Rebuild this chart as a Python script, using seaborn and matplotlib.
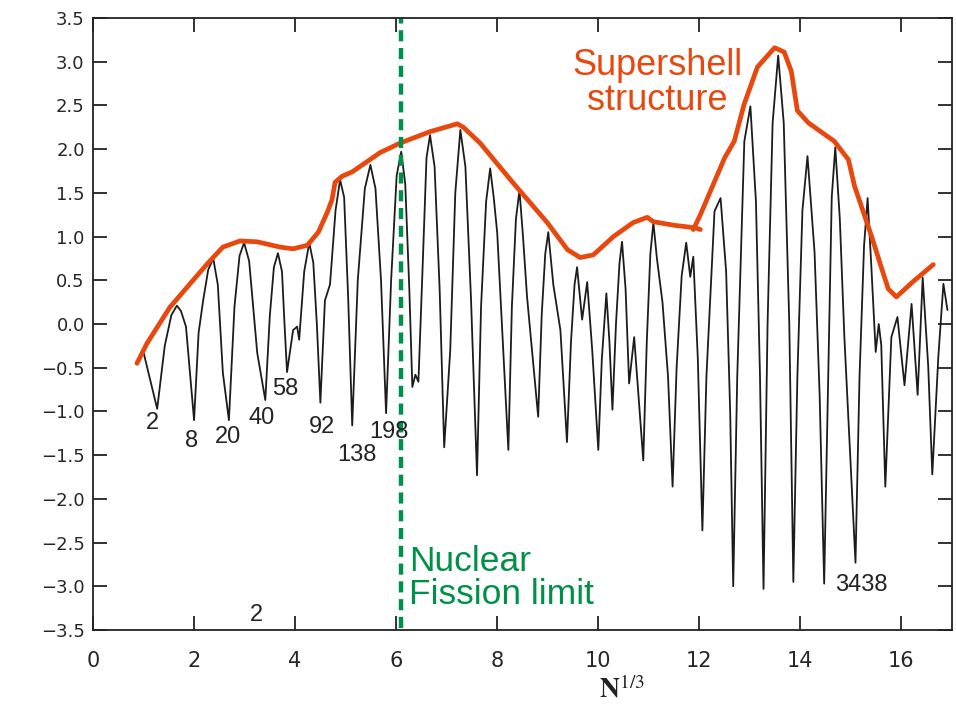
import matplotlib
matplotlib.use("Agg")
import matplotlib.pyplot as plt
import seaborn as sns
import pandas as pd

# Shell-correction energy versus N^(1/3)
n13 = [0.99, 1.27, 1.42, 1.55, 1.66, 1.74, 1.84, 2.00, 2.09, 2.18, 2.28, 2.38,
       2.47, 2.57, 2.69, 2.80, 2.90, 2.99, 3.09, 3.17, 3.25, 3.41, 3.50, 3.58,
       3.66, 3.74, 3.79, 3.84, 3.96, 4.04, 4.08, 4.18, 4.28, 4.36, 4.43, 4.50,
       4.59, 4.69, 4.80, 4.89, 4.97, 5.05, 5.13, 5.24, 5.38, 5.49, 5.59, 5.70,
       5.80, 5.90, 6.01, 6.10, 6.18, 6.26, 6.32, 6.38, 6.44, 6.52, 6.60, 6.67,
       6.76, 6.86, 6.95, 7.07, 7.17, 7.27, 7.37, 7.48, 7.60, 7.68, 7.78, 7.86,
       7.93, 8.00, 8.11, 8.22, 8.29, 8.37, 8.44, 8.51, 8.59, 8.81, 8.88, 8.95,
       9.01, 9.11, 9.25, 9.38, 9.46, 9.53, 9.58, 9.68, 9.78, 9.88, 10.00, 10.07,
       10.16, 10.22, 10.28, 10.35, 10.42, 10.47, 10.54, 10.61, 10.71, 10.89,
       10.96, 11.03, 11.09, 11.16, 11.27, 11.38, 11.47, 11.55, 11.65, 11.74,
       11.82, 11.88, 11.97, 12.06, 12.14, 12.30, 12.42, 12.53, 12.61, 12.67,
       12.75, 12.89, 13.01, 13.12, 13.20, 13.27, 13.35, 13.45, 13.56, 13.67,
       13.78, 13.86, 13.94, 14.04, 14.14, 14.28, 14.38, 14.47, 14.55, 14.62,
       14.69, 14.78, 14.87, 15.09, 15.17, 15.26, 15.33, 15.40, 15.49, 15.55,
       15.60, 15.68, 15.80, 15.92, 16.06, 16.20, 16.32, 16.42, 16.53, 16.61,
       16.73, 16.83, 16.91]
energy = [-0.30, -0.97, -0.25, 0.10, 0.21, 0.15, -0.03, -1.10, -0.10, 0.27, 0.62, 0.75,
          0.45, -0.56, -1.10, 0.20, 0.78, 0.93, 0.72, 0.20, -0.33, -0.87, 0.10, 0.65,
          0.81, 0.60, 0.00, -0.55, -0.07, -0.03, -0.18, 0.60, 0.93, 0.70, 0.00, -0.90,
          0.27, 0.45, 1.30, 1.65, 1.45, 0.30, -1.16, 0.50, 1.55, 1.82, 1.55, 0.50,
          -1.02, 0.50, 1.70, 1.97, 1.60, 0.40, -0.72, -0.58, -0.66, 0.60, 1.90, 2.16,
          1.80, 0.40, -1.41, -0.30, 1.50, 2.22, 1.80, 0.30, -1.73, 0.20, 1.40, 1.78,
          1.45, 1.04, -0.20, -1.44, 0.20, 1.20, 1.53, 1.00, 0.31, -1.06, 0.10, 0.80,
          1.05, 0.45, -0.07, -1.35, -0.20, 0.45, 0.65, 0.05, 0.48, -0.30, -1.44, -0.40,
          0.35, -0.20, -0.98, 0.00, 0.70, 0.94, 0.40, -0.68, -0.15, -1.56,
          -0.20, 0.80, 1.16, 0.75, 0.25, -0.60, -1.86, -0.50, 0.55, 0.93,
          0.54, 0.77, -0.40, -2.36, -0.60, 1.29, 1.44, 0.60, -1.00, -3.00,
          -0.60, 2.09, 2.49, 1.40, -0.60, -3.03, 0.00, 2.30, 3.07, 2.30,
          0.00, -2.95, -0.60, 1.30, 1.92, 0.82, -0.80, -2.97, -0.60, 1.45,
          2.02, 1.20, -0.15, -2.73, -0.60, 0.90, 1.44, 0.70, -0.32, 0.00,
          -0.24, -1.86, -0.15, 0.08, -0.70, 0.23, -0.81, 0.53, -0.49, -1.72,
          -0.37, 0.46, 0.16]

# Hand-drawn envelope (two strokes)
env1_x = [0.87, 1.07, 1.52, 1.98, 2.28, 2.57, 2.91, 3.25, 3.70, 3.96, 4.24, 4.46,
          4.63, 4.73, 4.79, 4.93, 5.13, 5.68, 6.08, 6.67, 7.21, 7.33, 7.66, 8.32,
          8.99, 9.39, 9.64, 9.90, 10.30, 10.69, 10.97, 11.09, 11.49, 11.92, 12.02]
env1_y = [-0.45, -0.22, 0.19, 0.50, 0.70, 0.88, 0.95, 0.94, 0.88, 0.86, 0.90, 1.05,
          1.27, 1.42, 1.62, 1.69, 1.74, 1.96, 2.07, 2.20, 2.29, 2.25, 2.07, 1.61,
          1.16, 0.85, 0.76, 0.79, 1.00, 1.16, 1.22, 1.17, 1.13, 1.10, 1.08]
env2_x = [11.88, 12.02, 12.50, 12.69, 12.89, 13.15, 13.49, 13.68, 13.82, 13.94,
          14.16, 14.67, 14.95, 15.07, 15.41, 15.60, 15.74, 15.90, 16.22, 16.63]
env2_y = [1.08, 1.25, 1.90, 2.09, 2.52, 2.94, 3.16, 3.11, 2.89, 2.44,
          2.30, 2.09, 1.88, 1.58, 1.00, 0.65, 0.40, 0.31, 0.48, 0.68]

# Magic numbers marked at the shell closures
magic_labels = ["2", "8", "20", "40", "58", "92", "138", "198", "3438", "2"]
magic_x = [1.17, 1.96, 2.67, 3.33, 3.80, 4.53, 5.23, 5.86, 15.21, 3.23]
magic_y = [-1.13, -1.34, -1.29, -1.08, -0.74, -1.18, -1.50, -1.24, -2.99, -3.33]

fission_limit = 6.10
x_ticks = [0, 2, 4, 6, 8, 10, 12, 14, 16]
y_ticks = [-3.5, -3.0, -2.5, -2.0, -1.5, -1.0, -0.5, 0.0, 0.5, 1.0, 1.5, 2.0, 2.5, 3.0, 3.5]

ORANGE = "#E8480E"
GREEN = "#009148"

sns.set_style("ticks", {"xtick.direction": "in", "ytick.direction": "in"})
plt.rcParams["font.family"] = ["DejaVu Sans"]
plt.rcParams["mathtext.fontset"] = "stix"

fig = plt.figure(figsize=(9.56, 7.17), dpi=100)
ax = fig.add_axes([93 / 956, 1 - 630 / 717, (952 - 93) / 956, (630 - 18) / 717])

curve = pd.DataFrame({"n13": n13, "energy": energy})
sns.lineplot(data=curve, x="n13", y="energy", ax=ax, color="#1c1c1c",
             linewidth=1.3, estimator=None, sort=False)

for ex, ey in ((env1_x, env1_y), (env2_x, env2_y)):
    env = pd.DataFrame({"x": ex, "y": ey})
    sns.lineplot(data=env, x="x", y="y", ax=ax, color=ORANGE, linewidth=3.4,
                 estimator=None, sort=False, solid_capstyle="round",
                 solid_joinstyle="round")

ax.axvline(fission_limit, color=GREEN, linewidth=3.2, linestyle=(0, (2.5, 1.5)),
           ymin=0.003, ymax=1.0)

for lab, lx, ly in zip(magic_labels, magic_x, magic_y):
    ax.text(lx, ly, lab, ha="center", va="center", fontsize=17,
            family="Liberation Sans", color="#232323")

ax.text(11.17, 2.76, "Supershell\nstructure", ha="center", va="center",
        fontsize=26, family="Liberation Sans", color=ORANGE, linespacing=1.0)
ax.text(6.26, -2.9, "Nuclear\nFission limit", ha="left", va="center",
        fontsize=25.5, family="Liberation Sans", color=GREEN, linespacing=1.0)

ax.set_xlim(0, 17)
ax.set_ylim(-3.5, 3.5)
ax.set_xticks(x_ticks)
ax.set_yticks(y_ticks)
ax.set_yticklabels([f"{v:.1f}".replace("-", "\u2212") for v in y_ticks])
ax.tick_params(axis="both", which="both", direction="in", length=10, width=1.3,
               top=True, right=True, color="#222222")
ax.tick_params(axis="x", labelsize=15, pad=15)
ax.tick_params(axis="y", labelsize=13, pad=6)
for s in ax.spines.values():
    s.set_linewidth(1.3)
    s.set_color("#222222")

ax.set_ylabel("")
ax.set_xlabel(r"$\mathbf{N}^{1/3}$", fontsize=20, color="#222222")
ax.xaxis.set_label_coords((622 - 93) / 859, -0.075)

fig.savefig("out.png", dpi=100)
